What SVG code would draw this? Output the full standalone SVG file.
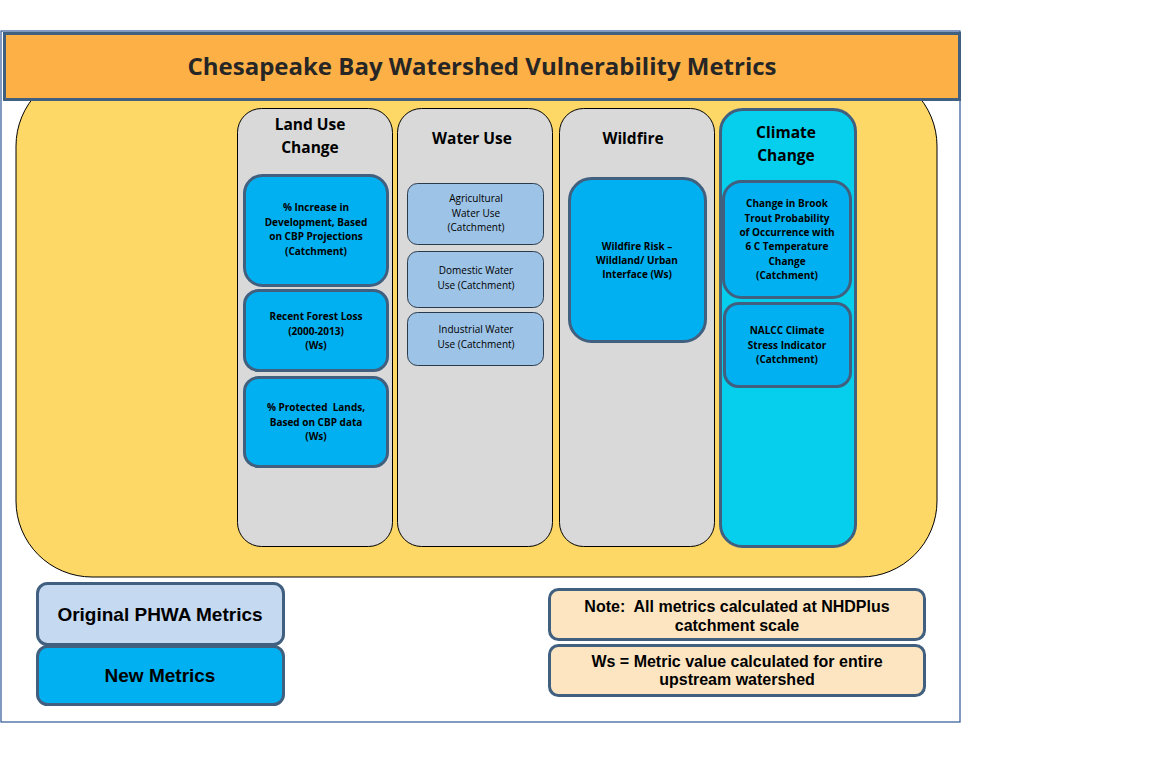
<svg xmlns="http://www.w3.org/2000/svg" width="1152" height="777" viewBox="0 0 1152 777">
  <style>
    .frame { fill: #ffffff; stroke: #2f5597; stroke-width: 1.2; }
    .header { fill: #fdb045; stroke: #41607f; stroke-width: 3; }
    .basin { fill: #fdd866; stroke: #000000; stroke-width: 1; }
    .col { fill: #d9d9d9; stroke: #000000; stroke-width: 1; }
    .colNew { fill: #05cfed; stroke: #41607f; stroke-width: 3; }
    .newBox { fill: #00b0f0; stroke: #41607f; stroke-width: 3; }
    .oldBox { fill: #9dc3e6; stroke: #2b3a4a; stroke-width: 1; }
    .legOld { fill: #c5d9f1; stroke: #41607f; stroke-width: 3; }
    .note { fill: #fde5c2; stroke: #41607f; stroke-width: 3; }
    .title { font-family: "Open Sans", "Noto Sans", sans-serif; font-weight: bold; font-size: 24px; fill: #262626; text-anchor: middle; }
    .colHead { font-family: "Open Sans", "Noto Sans", sans-serif; font-weight: bold; font-size: 15.5px; fill: #000000; text-anchor: middle; }
    .boxText { font-family: "Open Sans", "Noto Sans", sans-serif; font-size: 10px; fill: #000000; text-anchor: middle; white-space: pre; }
    .bold { font-weight: bold; }
    .legend { font-family: "Liberation Sans", Arial, sans-serif; font-weight: bold; font-size: 19px; fill: #000000; text-anchor: middle; }
    .noteText { font-family: "Liberation Sans", Arial, sans-serif; font-weight: bold; font-size: 16px; fill: #000000; text-anchor: middle; white-space: pre; }
  </style>

  <!-- page frame -->
  <rect class="frame" x="1" y="31" width="959" height="691"/>

  <!-- watershed backdrop -->
  <g id="basin">
    <rect class="basin" x="16" y="70" width="921" height="507" rx="76" ry="76"/>
  </g>

  <!-- title bar -->
  <g id="title">
    <rect class="header" x="4.5" y="33.5" width="955" height="66"/>
    <text class="title" x="482" y="75">Chesapeake Bay Watershed Vulnerability Metrics</text>
  </g>

  <!-- Land Use Change column -->
  <g id="land-use">
    <rect class="col" x="237.5" y="108.5" width="155" height="438" rx="24"/>
    <text class="colHead" x="310" y="130">Land Use</text>
    <text class="colHead" x="310" y="153">Change</text>
  </g>
  <g id="land-development">
    <rect class="newBox" x="244.5" y="175.5" width="143" height="110" rx="18"/>
    <text class="boxText bold" x="316" y="211">% Increase in</text>
    <text class="boxText bold" x="316" y="226">Development, Based</text>
    <text class="boxText bold" x="316" y="240">on CBP Projections</text>
    <text class="boxText bold" x="316" y="255">(Catchment)</text>
  </g>
  <g id="land-forest-loss">
    <rect class="newBox" x="244.5" y="290.5" width="143" height="80" rx="14"/>
    <text class="boxText bold" x="316" y="320">Recent Forest Loss</text>
    <text class="boxText bold" x="316" y="335">(2000-2013)</text>
    <text class="boxText bold" x="316" y="349">(Ws)</text>
  </g>
  <g id="land-protected">
    <rect class="newBox" x="244.5" y="377.5" width="143" height="89" rx="14"/>
    <text class="boxText bold" x="316" y="411">% Protected  Lands,</text>
    <text class="boxText bold" x="316" y="426">Based on CBP data</text>
    <text class="boxText bold" x="316" y="440">(Ws)</text>
  </g>

  <!-- Water Use column -->
  <g id="water-use">
    <rect class="col" x="397.5" y="108.5" width="155" height="438" rx="24"/>
    <text class="colHead" x="472" y="144">Water Use</text>
  </g>
  <g id="water-agricultural">
    <rect class="oldBox" x="407.5" y="183.5" width="136" height="61" rx="10"/>
    <text class="boxText" x="476" y="202">Agricultural</text>
    <text class="boxText" x="476" y="217">Water Use</text>
    <text class="boxText" x="476" y="231">(Catchment)</text>
  </g>
  <g id="water-domestic">
    <rect class="oldBox" x="407.5" y="251.5" width="136" height="56" rx="10"/>
    <text class="boxText" x="476" y="274">Domestic Water</text>
    <text class="boxText" x="476" y="289">Use (Catchment)</text>
  </g>
  <g id="water-industrial">
    <rect class="oldBox" x="407.5" y="312.5" width="136" height="53" rx="10"/>
    <text class="boxText" x="476" y="333">Industrial Water</text>
    <text class="boxText" x="476" y="348">Use (Catchment)</text>
  </g>

  <!-- Wildfire column -->
  <g id="wildfire">
    <rect class="col" x="559.5" y="108.5" width="155" height="438" rx="24"/>
    <text class="colHead" x="633" y="144">Wildfire</text>
  </g>
  <g id="wildfire-risk">
    <rect class="newBox" x="569.5" y="178.5" width="136" height="163" rx="22"/>
    <text class="boxText bold" x="637" y="250">Wildfire Risk –</text>
    <text class="boxText bold" x="637" y="264">Wildland/ Urban</text>
    <text class="boxText bold" x="637" y="278">Interface (Ws)</text>
  </g>

  <!-- Climate Change column -->
  <g id="climate-change">
    <rect class="colNew" x="720.5" y="109.5" width="135" height="437" rx="22"/>
    <text class="colHead" x="786" y="138">Climate</text>
    <text class="colHead" x="786" y="161">Change</text>
  </g>
  <g id="climate-brook-trout">
    <rect class="newBox" x="723.5" y="181.5" width="127" height="116" rx="18"/>
    <text class="boxText bold" x="787" y="207">Change in Brook</text>
    <text class="boxText bold" x="787" y="222">Trout Probability</text>
    <text class="boxText bold" x="787" y="236">of Occurrence with</text>
    <text class="boxText bold" x="787" y="250">6 C Temperature</text>
    <text class="boxText bold" x="787" y="265">Change</text>
    <text class="boxText bold" x="787" y="279">(Catchment)</text>
  </g>
  <g id="climate-stress">
    <rect class="newBox" x="724.5" y="303.5" width="126" height="83" rx="14"/>
    <text class="boxText bold" x="787" y="334">NALCC Climate</text>
    <text class="boxText bold" x="787" y="349">Stress Indicator</text>
    <text class="boxText bold" x="787" y="363">(Catchment)</text>
  </g>

  <!-- legend -->
  <g id="legend-original">
    <rect class="legOld" x="37.5" y="583.5" width="246" height="61" rx="10"/>
    <text class="legend" x="160" y="621">Original PHWA Metrics</text>
  </g>
  <g id="legend-new">
    <rect class="newBox" x="37.5" y="646.5" width="246" height="58" rx="10"/>
    <text class="legend" x="160" y="682">New Metrics</text>
  </g>

  <!-- notes -->
  <g id="note-scale">
    <rect class="note" x="549.5" y="589.5" width="375" height="50" rx="9"/>
    <text class="noteText" x="737" y="612">Note:  All metrics calculated at NHDPlus</text>
    <text class="noteText" x="737" y="631">catchment scale</text>
  </g>
  <g id="note-ws">
    <rect class="note" x="549.5" y="645.5" width="375" height="50" rx="9"/>
    <text class="noteText" x="737" y="667">Ws = Metric value calculated for entire</text>
    <text class="noteText" x="737" y="685">upstream watershed</text>
  </g>

  <!-- no connectors in this diagram -->
  <g id="connectors"/>
</svg>
